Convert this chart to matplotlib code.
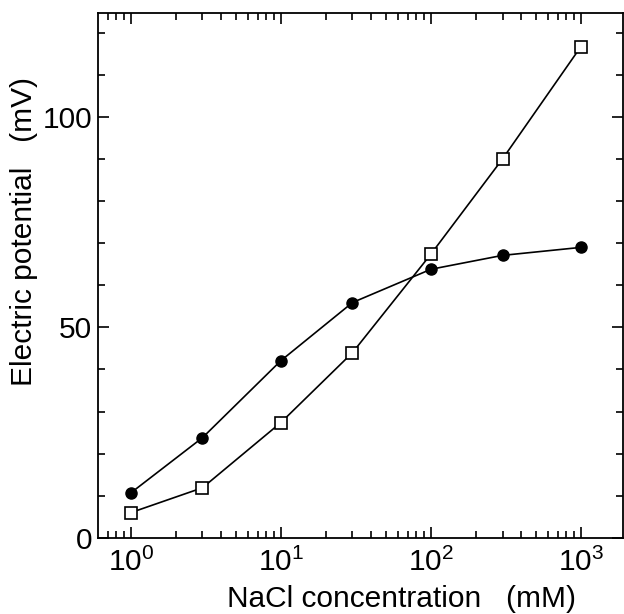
import matplotlib.pyplot as plt
import matplotlib.ticker as mticker

# NaCl concentration (mM) and electric potential (mV)
conc = [1, 3, 10, 30, 100, 300, 1000]
filled = [10.7, 23.8, 42.1, 55.9, 63.8, 67.1, 69.0]
open_sq = [6.0, 11.9, 27.4, 44.0, 67.4, 90.0, 116.7]

plt.rcParams['font.family'] = ['Liberation Sans', 'DejaVu Sans']

fig = plt.figure(figsize=(6.24, 6.14), dpi=100)
ax = fig.add_axes([0.157, 0.124, 0.841, 0.855])

ax.plot(conc, filled, color='black', lw=1.2, marker='o', ms=8,
        mfc='black', mec='black')
ax.plot(conc, open_sq, color='black', lw=1.2, marker='s', ms=9,
        mfc='white', mec='black', mew=1.2)

ax.set_xscale('log')
ax.set_xlim(0.603, 1900)
ax.set_ylim(0, 124.7)

ax.xaxis.set_major_locator(mticker.LogLocator(base=10, numticks=10))
ax.xaxis.set_minor_locator(mticker.LogLocator(base=10, subs=range(2, 10), numticks=20))
ax.xaxis.set_minor_formatter(mticker.NullFormatter())
ax.yaxis.set_major_locator(mticker.MultipleLocator(50))
ax.yaxis.set_minor_locator(mticker.MultipleLocator(10))

ax.tick_params(which='both', direction='in', top=True, right=True,
               width=1.2, labelsize=21.5)
ax.tick_params(which='major', length=8)
ax.tick_params(which='minor', length=5)
ax.tick_params(axis='x', pad=7)
ax.tick_params(axis='y', pad=4)

for s in ax.spines.values():
    s.set_linewidth(1.3)

ax.set_xlabel("NaCl concentration   (mM)", fontsize=21.5)
ax.set_ylabel("Electric potential   (mV)", fontsize=21.5)
ax.xaxis.set_label_coords(0.578, -0.09)
ax.yaxis.set_label_coords(-0.115, 0.583)

fig.savefig("out.png", dpi=100)
